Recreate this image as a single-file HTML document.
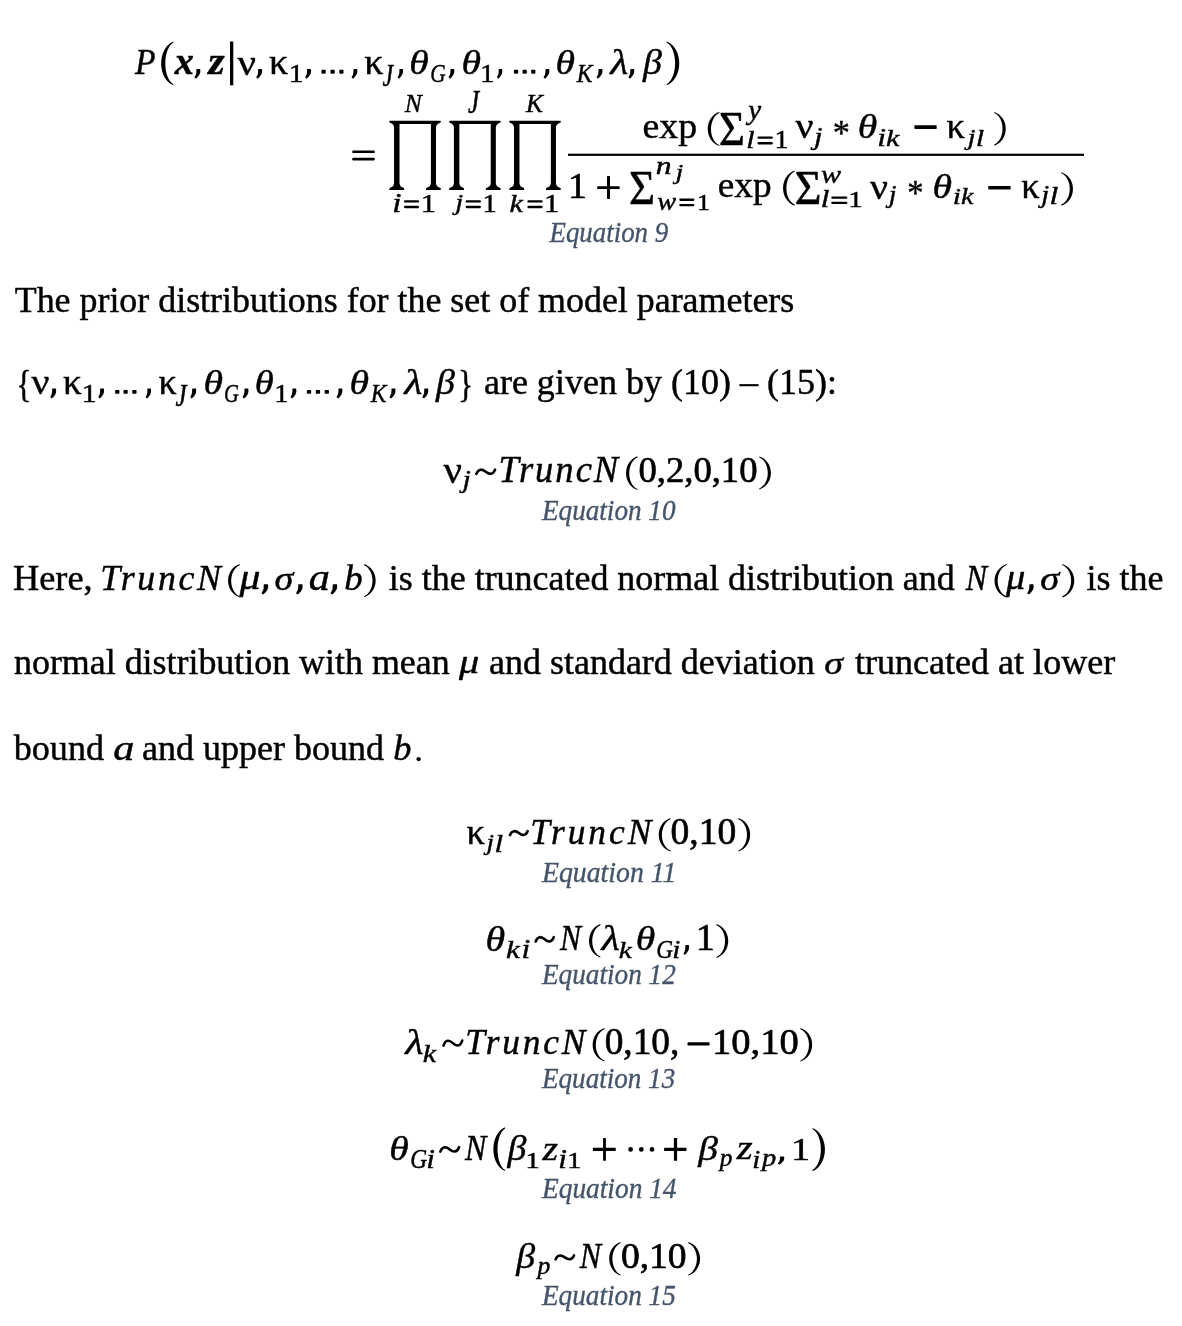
<!DOCTYPE html>
<html><head><meta charset="utf-8"><title>Equations</title>
<style>
html,body{margin:0;padding:0;background:#fff;width:1182px;height:1326px;overflow:hidden}
svg{display:block;will-change:transform}
text{font-family:"Liberation Serif",serif}
</style></head><body>
<svg width="1182" height="1326" viewBox="0 0 1182 1326">
<path d="M173.30,41.50 C157.17,48.51 157.17,78.29 173.30,85.30 L173.40,84.20 C162.68,77.79 162.68,49.01 173.40,42.60 Z" fill="#000"/>
<path d="M196.40,69.29 Q196.40,69.00 196.94,69.00 L199.81,69.00 Q200.30,69.00 200.30,69.97 L200.30,72.10 Q200.18,74.82 196.03,78.70 L194.38,77.34 Q196.40,74.34 196.27,72.69 Z" fill="#000"/>
<rect x="230.00" y="41.50" width="3.30" height="43.80" fill="#000"/>
<path d="M258.20,69.29 Q258.20,69.00 258.75,69.00 L261.61,69.00 Q262.10,69.00 262.10,69.97 L262.10,72.10 Q261.98,74.82 257.83,78.70 L256.18,77.34 Q258.20,74.34 258.07,72.69 Z" fill="#000"/>
<path d="M307.10,69.29 Q307.10,69.00 307.64,69.00 L310.51,69.00 Q311.00,69.00 311.00,69.97 L311.00,72.10 Q310.88,74.82 306.73,78.70 L305.08,77.34 Q307.10,74.34 306.97,72.69 Z" fill="#000"/>
<rect x="321.45" y="69.85" width="4.30" height="3.80" rx="0.8" fill="#000"/>
<rect x="330.45" y="69.85" width="4.30" height="3.80" rx="0.8" fill="#000"/>
<rect x="339.25" y="69.85" width="4.30" height="3.80" rx="0.8" fill="#000"/>
<path d="M353.46,69.29 Q353.46,69.00 354.00,69.00 L356.82,69.00 Q357.30,69.00 357.30,69.97 L357.30,72.10 Q357.18,74.82 353.10,78.70 L351.48,77.34 Q353.46,74.34 353.34,72.69 Z" fill="#000"/>
<path d="M399.42,69.29 Q399.42,69.00 399.92,69.00 L402.55,69.00 Q403.00,69.00 403.00,69.97 L403.00,72.10 Q402.89,74.82 399.08,78.70 L397.57,77.34 Q399.42,74.34 399.30,72.69 Z" fill="#000"/>
<path d="M450.46,69.29 Q450.46,69.00 451.00,69.00 L453.82,69.00 Q454.30,69.00 454.30,69.97 L454.30,72.10 Q454.18,74.82 450.10,78.70 L448.48,77.34 Q450.46,74.34 450.34,72.69 Z" fill="#000"/>
<path d="M498.72,69.29 Q498.72,69.00 499.22,69.00 L501.85,69.00 Q502.30,69.00 502.30,69.97 L502.30,72.10 Q502.19,74.82 498.38,78.70 L496.87,77.34 Q498.72,74.34 498.60,72.69 Z" fill="#000"/>
<rect x="513.95" y="69.85" width="4.30" height="3.80" rx="0.8" fill="#000"/>
<rect x="522.55" y="69.85" width="4.30" height="3.80" rx="0.8" fill="#000"/>
<rect x="531.15" y="69.85" width="4.30" height="3.80" rx="0.8" fill="#000"/>
<path d="M545.46,69.29 Q545.46,69.00 546.00,69.00 L548.82,69.00 Q549.30,69.00 549.30,69.97 L549.30,72.10 Q549.18,74.82 545.10,78.70 L543.48,77.34 Q545.46,74.34 545.34,72.69 Z" fill="#000"/>
<path d="M598.50,69.29 Q598.50,69.00 599.04,69.00 L601.91,69.00 Q602.40,69.00 602.40,69.97 L602.40,72.10 Q602.28,74.82 598.13,78.70 L596.48,77.34 Q598.50,74.34 598.37,72.69 Z" fill="#000"/>
<path d="M630.36,69.29 Q630.36,69.00 630.90,69.00 L633.72,69.00 Q634.20,69.00 634.20,69.97 L634.20,72.10 Q634.08,74.82 630.00,78.70 L628.38,77.34 Q630.36,74.34 630.24,72.69 Z" fill="#000"/>
<path d="M666.80,41.50 C683.47,48.51 683.47,78.29 666.80,85.30 L666.70,84.20 C677.95,77.79 677.95,49.01 666.70,42.60 Z" fill="#000"/>
<rect x="352.20" y="150.50" width="22.60" height="2.60" rx="1.2" fill="#000"/>
<rect x="352.20" y="157.80" width="22.60" height="2.60" rx="1.2" fill="#000"/>
<path transform="translate(389.35 120.85)" d="M0.5,0H50.95Q51.45,0 51.45,0.6V1.2Q51.45,1.7 50.8,1.9Q47,2.9 46.65,6.5V62.5Q47,66 50.6,67Q51.45,67.2 51.45,68V68.6Q51.45,69.15 50.9,69.15H37.2Q36.65,69.15 36.65,68.6V68Q36.65,67.2 37.5,67Q41.2,66 41.55,62.5V3.1H10.15V62.5Q10.5,66 14,67Q14.85,67.2 14.85,68V68.6Q14.85,69.15 14.3,69.15H0.55Q0,69.15 0,68.6V68Q0,67.2 0.85,67Q4.35,66 4.7,62.5V6.5Q4.35,2.9 0.65,1.9Q0,1.7 0,1.2V0.6Q0,0 0.5,0Z" fill="#000"/>
<path transform="translate(449.2 120.85)" d="M0.5,0H50.95Q51.45,0 51.45,0.6V1.2Q51.45,1.7 50.8,1.9Q47,2.9 46.65,6.5V62.5Q47,66 50.6,67Q51.45,67.2 51.45,68V68.6Q51.45,69.15 50.9,69.15H37.2Q36.65,69.15 36.65,68.6V68Q36.65,67.2 37.5,67Q41.2,66 41.55,62.5V3.1H10.15V62.5Q10.5,66 14,67Q14.85,67.2 14.85,68V68.6Q14.85,69.15 14.3,69.15H0.55Q0,69.15 0,68.6V68Q0,67.2 0.85,67Q4.35,66 4.7,62.5V6.5Q4.35,2.9 0.65,1.9Q0,1.7 0,1.2V0.6Q0,0 0.5,0Z" fill="#000"/>
<path transform="translate(509.3 120.85)" d="M0.5,0H50.95Q51.45,0 51.45,0.6V1.2Q51.45,1.7 50.8,1.9Q47,2.9 46.65,6.5V62.5Q47,66 50.6,67Q51.45,67.2 51.45,68V68.6Q51.45,69.15 50.9,69.15H37.2Q36.65,69.15 36.65,68.6V68Q36.65,67.2 37.5,67Q41.2,66 41.55,62.5V3.1H10.15V62.5Q10.5,66 14,67Q14.85,67.2 14.85,68V68.6Q14.85,69.15 14.3,69.15H0.55Q0,69.15 0,68.6V68Q0,67.2 0.85,67Q4.35,66 4.7,62.5V6.5Q4.35,2.9 0.65,1.9Q0,1.7 0,1.2V0.6Q0,0 0.5,0Z" fill="#000"/>
<rect x="404.00" y="200.20" width="15.00" height="2.40" rx="1.2" fill="#000"/>
<rect x="404.00" y="205.80" width="15.00" height="2.40" rx="1.2" fill="#000"/>
<rect x="465.70" y="200.20" width="15.20" height="2.40" rx="1.2" fill="#000"/>
<rect x="465.70" y="205.80" width="15.20" height="2.40" rx="1.2" fill="#000"/>
<rect x="527.40" y="200.20" width="15.20" height="2.40" rx="1.2" fill="#000"/>
<rect x="527.40" y="205.80" width="15.20" height="2.40" rx="1.2" fill="#000"/>
<rect x="568.00" y="153.70" width="516.00" height="2.20" fill="#000"/>
<path d="M719.30,111.80 C703.97,117.29 703.97,140.61 719.30,146.10 L719.40,145.00 C708.28,140.11 708.28,117.79 719.40,112.90 Z" fill="#000"/>
<rect x="757.50" y="136.40" width="15.30" height="2.40" rx="1.2" fill="#000"/>
<rect x="757.50" y="142.00" width="15.30" height="2.40" rx="1.2" fill="#000"/>
<rect x="914.40" y="125.30" width="22.30" height="3.60" rx="0.6" fill="#000"/>
<path d="M994.30,112.00 C1009.63,117.39 1009.63,140.31 994.30,145.70 L994.20,144.60 C1005.40,139.81 1005.40,117.89 994.20,113.10 Z" fill="#000"/>
<rect x="597.20" y="186.20" width="22.40" height="2.90" rx="0.6" fill="#000"/>
<rect x="607.00" y="176.00" width="3.00" height="22.90" rx="0.6" fill="#000"/>
<rect x="679.20" y="198.60" width="15.20" height="2.28" rx="1.139999999999999" fill="#000"/>
<rect x="679.20" y="203.92" width="15.20" height="2.28" rx="1.139999999999999" fill="#000"/>
<path d="M794.60,170.50 C779.27,176.13 779.27,200.07 794.60,205.70 L794.70,204.60 C783.69,199.57 783.69,176.63 794.70,171.60 Z" fill="#000"/>
<rect x="831.20" y="196.50" width="16.20" height="2.25" rx="1.125" fill="#000"/>
<rect x="831.20" y="201.75" width="16.20" height="2.25" rx="1.125" fill="#000"/>
<rect x="988.30" y="186.00" width="22.30" height="3.50" rx="0.6" fill="#000"/>
<path d="M1061.40,172.20 C1076.87,177.56 1076.87,200.34 1061.40,205.70 L1061.30,204.60 C1072.66,199.84 1072.66,178.06 1061.30,173.30 Z" fill="#000"/>
<path d="M52.20,388.71 Q52.20,388.40 52.74,388.40 L55.61,388.40 Q56.10,388.40 56.10,389.42 L56.10,391.66 Q55.98,394.52 51.83,398.60 L50.18,397.17 Q52.20,394.01 52.07,392.28 Z" fill="#000"/>
<path d="M100.16,388.71 Q100.16,388.40 100.70,388.40 L103.52,388.40 Q104.00,388.40 104.00,389.42 L104.00,391.66 Q103.88,394.52 99.80,398.60 L98.18,397.17 Q100.16,394.01 100.04,392.28 Z" fill="#000"/>
<rect x="115.15" y="390.00" width="4.30" height="3.80" rx="0.8" fill="#000"/>
<rect x="123.45" y="390.00" width="4.30" height="3.80" rx="0.8" fill="#000"/>
<rect x="132.25" y="390.00" width="4.30" height="3.80" rx="0.8" fill="#000"/>
<path d="M147.42,388.71 Q147.42,388.40 147.92,388.40 L150.55,388.40 Q151.00,388.40 151.00,389.42 L151.00,391.66 Q150.89,394.52 147.08,398.60 L145.57,397.17 Q147.42,394.01 147.30,392.28 Z" fill="#000"/>
<path d="M192.20,388.71 Q192.20,388.40 192.75,388.40 L195.61,388.40 Q196.10,388.40 196.10,389.42 L196.10,391.66 Q195.98,394.52 191.83,398.60 L190.18,397.17 Q192.20,394.01 192.07,392.28 Z" fill="#000"/>
<path d="M244.50,388.71 Q244.50,388.40 245.05,388.40 L247.91,388.40 Q248.40,388.40 248.40,389.42 L248.40,391.66 Q248.28,394.52 244.13,398.60 L242.48,397.17 Q244.50,394.01 244.37,392.28 Z" fill="#000"/>
<path d="M292.46,388.71 Q292.46,388.40 293.00,388.40 L295.82,388.40 Q296.30,388.40 296.30,389.42 L296.30,391.66 Q296.18,394.52 292.10,398.60 L290.48,397.17 Q292.46,394.01 292.34,392.28 Z" fill="#000"/>
<rect x="306.85" y="390.00" width="4.30" height="3.80" rx="0.8" fill="#000"/>
<rect x="315.75" y="390.00" width="4.30" height="3.80" rx="0.8" fill="#000"/>
<rect x="324.65" y="390.00" width="4.30" height="3.80" rx="0.8" fill="#000"/>
<path d="M338.46,388.71 Q338.46,388.40 339.00,388.40 L341.82,388.40 Q342.30,388.40 342.30,389.42 L342.30,391.66 Q342.18,394.52 338.10,398.60 L336.48,397.17 Q338.46,394.01 338.34,392.28 Z" fill="#000"/>
<path d="M391.50,388.71 Q391.50,388.40 392.05,388.40 L394.91,388.40 Q395.40,388.40 395.40,389.42 L395.40,391.66 Q395.28,394.52 391.13,398.60 L389.48,397.17 Q391.50,394.01 391.37,392.28 Z" fill="#000"/>
<path d="M424.30,388.71 Q424.30,388.40 424.85,388.40 L427.71,388.40 Q428.20,388.40 428.20,389.42 L428.20,391.66 Q428.08,394.52 423.93,398.60 L422.28,397.17 Q424.30,394.01 424.17,392.28 Z" fill="#000"/>
<path d="M476.30,473.90 C478.56,468.10 482.50,469.17 485.70,471.75 S492.84,475.40 495.10,469.60" fill="none" stroke="#000" stroke-width="2.6" stroke-linecap="round"/>
<path d="M637.40,456.30 C622.33,461.69 622.33,484.61 637.40,490.00 L637.50,488.90 C626.57,484.11 626.57,462.19 637.50,457.40 Z" fill="#000"/>
<path d="M759.40,456.40 C774.73,461.68 774.73,484.12 759.40,489.40 L759.30,488.30 C770.59,483.62 770.59,462.18 759.30,457.50 Z" fill="#000"/>
<path d="M239.60,564.10 C224.27,569.41 224.27,591.99 239.60,597.30 L239.70,596.20 C228.44,591.49 228.44,569.91 239.70,565.20 Z" fill="#000"/>
<path d="M263.75,584.61 Q263.75,584.30 264.36,584.30 L267.56,584.30 Q268.10,584.30 268.10,585.33 L268.10,587.60 Q267.96,590.48 263.34,594.60 L261.50,593.16 Q263.75,589.97 263.61,588.21 Z" fill="#000"/>
<path d="M298.25,584.61 Q298.25,584.30 298.86,584.30 L302.06,584.30 Q302.60,584.30 302.60,585.33 L302.60,587.60 Q302.46,590.48 297.84,594.60 L296.00,593.16 Q298.25,589.97 298.11,588.21 Z" fill="#000"/>
<path d="M332.75,584.61 Q332.75,584.30 333.36,584.30 L336.56,584.30 Q337.10,584.30 337.10,585.33 L337.10,587.60 Q336.96,590.48 332.34,594.60 L330.50,593.16 Q332.75,589.97 332.61,588.21 Z" fill="#000"/>
<path d="M364.20,564.10 C379.53,569.41 379.53,591.99 364.20,597.30 L364.10,596.20 C375.36,591.49 375.36,569.91 364.10,565.20 Z" fill="#000"/>
<path d="M1006.70,564.00 C990.57,569.38 990.57,592.22 1006.70,597.60 L1006.80,596.50 C994.79,591.72 994.79,569.88 1006.80,565.10 Z" fill="#000"/>
<path d="M1029.38,584.61 Q1029.38,584.30 1029.97,584.30 L1033.07,584.30 Q1033.60,584.30 1033.60,585.33 L1033.60,587.60 Q1033.47,590.48 1028.98,594.60 L1027.20,593.16 Q1029.38,589.97 1029.24,588.21 Z" fill="#000"/>
<path d="M1062.20,564.00 C1078.33,569.38 1078.33,592.22 1062.20,597.60 L1062.10,596.50 C1074.11,591.72 1074.11,569.88 1062.10,565.10 Z" fill="#000"/>
<path d="M510.00,835.10 C512.12,829.70 515.84,830.70 518.85,833.10 S525.58,836.50 527.70,831.10" fill="none" stroke="#000" stroke-width="2.6" stroke-linecap="round"/>
<path d="M670.50,818.10 C654.90,823.46 654.90,846.24 670.50,851.60 L670.60,850.50 C659.11,845.74 659.11,823.96 670.60,819.20 Z" fill="#000"/>
<path d="M738.50,818.10 C754.10,823.46 754.10,846.24 738.50,851.60 L738.40,850.50 C749.89,845.74 749.89,823.96 738.40,819.20 Z" fill="#000"/>
<path d="M535.60,941.60 C537.78,935.52 541.61,936.65 544.70,939.35 S551.62,943.18 553.80,937.10" fill="none" stroke="#000" stroke-width="2.6" stroke-linecap="round"/>
<path d="M600.30,924.10 C585.37,929.46 585.37,952.24 600.30,957.60 L600.40,956.50 C589.58,951.74 589.58,929.96 600.40,925.20 Z" fill="#000"/>
<path d="M685.35,945.40 Q685.35,945.10 685.87,945.10 L688.54,945.10 Q689.00,945.10 689.00,946.09 L689.00,948.27 Q688.89,951.04 685.01,955.00 L683.47,953.61 Q685.35,950.54 685.24,948.86 Z" fill="#000"/>
<path d="M716.50,924.10 C732.23,929.52 732.23,952.58 716.50,958.00 L716.40,956.90 C727.97,952.08 727.97,930.02 716.40,925.20 Z" fill="#000"/>
<path d="M443.50,1045.60 C445.74,1038.85 449.67,1040.10 452.85,1043.10 S459.96,1047.35 462.20,1040.60" fill="none" stroke="#000" stroke-width="2.6" stroke-linecap="round"/>
<path d="M604.40,1028.10 C588.80,1033.46 588.80,1056.24 604.40,1061.60 L604.50,1060.50 C593.01,1055.74 593.01,1033.96 604.50,1029.20 Z" fill="#000"/>
<rect x="687.50" y="1042.30" width="22.00" height="3.20" rx="0.6" fill="#000"/>
<path d="M800.50,1028.10 C816.10,1033.46 816.10,1056.24 800.50,1061.60 L800.40,1060.50 C811.89,1055.74 811.89,1033.96 800.40,1029.20 Z" fill="#000"/>
<path d="M440.30,1151.60 C442.56,1145.66 446.50,1146.76 449.70,1149.40 S456.84,1153.14 459.10,1147.20" fill="none" stroke="#000" stroke-width="2.6" stroke-linecap="round"/>
<path d="M505.00,1127.30 C489.53,1134.31 489.53,1164.09 505.00,1171.10 L505.10,1170.00 C495.05,1163.59 495.05,1134.81 505.10,1128.40 Z" fill="#000"/>
<rect x="592.90" y="1147.80" width="22.80" height="3.30" rx="0.5" fill="#000"/>
<rect x="603.10" y="1138.00" width="2.80" height="22.80" rx="0.5" fill="#000"/>
<circle cx="630.6" cy="1149.4" r="2.35" fill="#000"/>
<circle cx="641.3" cy="1149.4" r="2.35" fill="#000"/>
<circle cx="652.0" cy="1149.4" r="2.35" fill="#000"/>
<rect x="664.10" y="1147.80" width="22.30" height="3.30" rx="0.5" fill="#000"/>
<rect x="673.90" y="1138.00" width="3.20" height="22.80" rx="0.5" fill="#000"/>
<path d="M779.98,1156.65 Q779.98,1156.40 780.57,1156.40 L783.67,1156.40 Q784.20,1156.40 784.20,1157.23 L784.20,1159.06 Q784.07,1161.38 779.58,1164.70 L777.80,1163.54 Q779.98,1160.97 779.84,1159.55 Z" fill="#000"/>
<path d="M812.60,1128.00 C829.13,1134.91 829.13,1164.29 812.60,1171.20 L812.50,1170.10 C823.69,1163.79 823.69,1135.41 812.50,1129.10 Z" fill="#000"/>
<path d="M555.60,1259.30 C557.81,1254.03 561.67,1255.01 564.80,1257.35 S571.79,1260.66 574.00,1255.40" fill="none" stroke="#000" stroke-width="2.6" stroke-linecap="round"/>
<path d="M620.40,1242.10 C605.47,1247.46 605.47,1270.24 620.40,1275.60 L620.50,1274.50 C609.68,1269.74 609.68,1247.96 620.50,1243.20 Z" fill="#000"/>
<path d="M688.40,1242.10 C704.00,1247.46 704.00,1270.24 688.40,1275.60 L688.30,1274.50 C699.79,1269.74 699.79,1247.96 688.30,1243.20 Z" fill="#000"/>
<text transform="matrix(0.9091 0 0 0.9880 135.10 74.10)" font-size="37" font-style="italic" font-weight="normal" stroke="#000" stroke-width="0.45" stroke-linejoin="round" fill="#000" xml:space="preserve">P</text>
<text transform="matrix(1.0316 0 0 1.0333 174.73 74.10)" font-size="37" font-style="italic" font-weight="bold" stroke="#000" stroke-width="0.45" stroke-linejoin="round" fill="#000" xml:space="preserve">x</text>
<text transform="matrix(1.1375 0 0 1.0056 208.34 74.10)" font-size="37" font-style="italic" font-weight="bold" stroke="#000" stroke-width="0.45" stroke-linejoin="round" fill="#000" xml:space="preserve">z</text>
<text transform="matrix(1.1062 0 0 0.9833 237.40 74.60)" font-size="37" font-style="normal" font-weight="normal" stroke="#000" stroke-width="0.45" stroke-linejoin="round" fill="#000" xml:space="preserve">ν</text>
<text transform="matrix(1.0263 0 0 0.9556 269.10 74.10)" font-size="37" font-style="normal" font-weight="normal" stroke="#000" stroke-width="0.45" stroke-linejoin="round" fill="#000" xml:space="preserve">κ</text>
<text transform="matrix(1.1100 0 0 0.9056 288.78 81.50)" font-size="26.7" font-style="normal" font-weight="normal" stroke="#000" stroke-width="0.45" stroke-linejoin="round" fill="#000" xml:space="preserve">1</text>
<text transform="matrix(1.0316 0 0 0.9556 364.30 74.10)" font-size="37" font-style="normal" font-weight="normal" stroke="#000" stroke-width="0.45" stroke-linejoin="round" fill="#000" xml:space="preserve">κ</text>
<text transform="matrix(0.8923 0 0 1.1611 382.50 85.70)" font-size="26.7" font-style="italic" font-weight="normal" stroke="#000" stroke-width="0.45" stroke-linejoin="round" fill="#000" xml:space="preserve">J</text>
<text transform="matrix(1.0750 0 0 0.9296 409.35 74.10)" font-size="37" font-style="italic" font-weight="normal" stroke="#000" stroke-width="0.45" stroke-linejoin="round" fill="#000" xml:space="preserve">θ</text>
<text transform="matrix(0.8000 0 0 0.9556 430.30 82.00)" font-size="26.7" font-style="italic" font-weight="normal" stroke="#000" stroke-width="0.45" stroke-linejoin="round" fill="#000" xml:space="preserve">G</text>
<text transform="matrix(1.0750 0 0 0.9296 461.45 74.10)" font-size="37" font-style="italic" font-weight="normal" stroke="#000" stroke-width="0.45" stroke-linejoin="round" fill="#000" xml:space="preserve">θ</text>
<text transform="matrix(1.0800 0 0 0.9056 480.04 81.50)" font-size="26.7" font-style="normal" font-weight="normal" stroke="#000" stroke-width="0.45" stroke-linejoin="round" fill="#000" xml:space="preserve">1</text>
<text transform="matrix(1.0750 0 0 0.9296 555.55 74.10)" font-size="37" font-style="italic" font-weight="normal" stroke="#000" stroke-width="0.45" stroke-linejoin="round" fill="#000" xml:space="preserve">θ</text>
<text transform="matrix(0.8850 0 0 0.9556 576.68 82.00)" font-size="26.7" font-style="italic" font-weight="normal" stroke="#000" stroke-width="0.45" stroke-linejoin="round" fill="#000" xml:space="preserve">K</text>
<text transform="matrix(1.1313 0 0 0.9481 610.23 74.10)" font-size="37" font-style="italic" font-weight="normal" stroke="#000" stroke-width="0.45" stroke-linejoin="round" fill="#000" xml:space="preserve">λ</text>
<text transform="matrix(1.0250 0 0 0.9429 643.12 73.96)" font-size="37" font-style="italic" font-weight="normal" stroke="#000" stroke-width="0.45" stroke-linejoin="round" fill="#000" xml:space="preserve">β</text>
<text transform="matrix(0.9579 0 0 0.9722 404.80 112.40)" font-size="26.7" font-style="italic" font-weight="normal" stroke="#000" stroke-width="0.45" stroke-linejoin="round" fill="#000" xml:space="preserve">N</text>
<text transform="matrix(0.9385 0 0 1.2278 468.00 113.20)" font-size="26.7" font-style="italic" font-weight="normal" stroke="#000" stroke-width="0.45" stroke-linejoin="round" fill="#000" xml:space="preserve">J</text>
<text transform="matrix(0.9550 0 0 0.9722 525.96 112.40)" font-size="26.7" font-style="italic" font-weight="normal" stroke="#000" stroke-width="0.45" stroke-linejoin="round" fill="#000" xml:space="preserve">K</text>
<text transform="matrix(1.2500 0 0 1.0000 392.20 212.10)" font-size="26.7" font-style="italic" font-weight="normal" stroke="#000" stroke-width="0.45" stroke-linejoin="round" fill="#000" xml:space="preserve">i</text>
<text transform="matrix(1.1400 0 0 0.9556 420.82 212.10)" font-size="26.7" font-style="normal" font-weight="normal" stroke="#000" stroke-width="0.45" stroke-linejoin="round" fill="#000" xml:space="preserve">1</text>
<text transform="matrix(1.0700 0 0 0.8917 455.21 210.15)" font-size="26.7" font-style="italic" font-weight="normal" stroke="#000" stroke-width="0.45" stroke-linejoin="round" fill="#000" xml:space="preserve">j</text>
<text transform="matrix(1.0700 0 0 0.9556 482.56 212.10)" font-size="26.7" font-style="normal" font-weight="normal" stroke="#000" stroke-width="0.45" stroke-linejoin="round" fill="#000" xml:space="preserve">1</text>
<text transform="matrix(1.1316 0 0 0.9053 509.53 212.10)" font-size="26.7" font-style="italic" font-weight="normal" stroke="#000" stroke-width="0.45" stroke-linejoin="round" fill="#000" xml:space="preserve">k</text>
<text transform="matrix(1.1400 0 0 0.9556 544.12 212.10)" font-size="26.7" font-style="normal" font-weight="normal" stroke="#000" stroke-width="0.45" stroke-linejoin="round" fill="#000" xml:space="preserve">1</text>
<text transform="matrix(1.0216 0 0 0.9769 642.48 137.88)" font-size="37" font-style="normal" font-weight="normal" stroke="#000" stroke-width="0.45" stroke-linejoin="round" fill="#000" xml:space="preserve">exp</text>
<text transform="matrix(1.2000 0 0 1.3200 719.10 145.30)" font-size="37" font-style="normal" font-weight="normal" stroke="#000" stroke-width="0.45" stroke-linejoin="round" fill="#000" xml:space="preserve">Σ</text>
<text transform="matrix(1.0857 0 0 0.9842 748.27 119.09)" font-size="26.7" font-style="italic" font-weight="normal" stroke="#000" stroke-width="0.45" stroke-linejoin="round" fill="#000" xml:space="preserve">y</text>
<text transform="matrix(1.1167 0 0 0.9105 746.28 148.20)" font-size="26.7" font-style="italic" font-weight="normal" stroke="#000" stroke-width="0.45" stroke-linejoin="round" fill="#000" xml:space="preserve">l</text>
<text transform="matrix(1.0500 0 0 0.9167 774.50 147.80)" font-size="26.7" font-style="normal" font-weight="normal" stroke="#000" stroke-width="0.45" stroke-linejoin="round" fill="#000" xml:space="preserve">1</text>
<text transform="matrix(1.0750 0 0 0.9611 795.60 138.20)" font-size="37" font-style="normal" font-weight="normal" stroke="#000" stroke-width="0.45" stroke-linejoin="round" fill="#000" xml:space="preserve">ν</text>
<text transform="matrix(1.1600 0 0 0.9667 813.98 144.90)" font-size="26.7" font-style="italic" font-weight="normal" stroke="#000" stroke-width="0.45" stroke-linejoin="round" fill="#000" xml:space="preserve">j</text>
<text transform="matrix(0.9267 0 0 0.9643 832.85 145.01)" font-size="37" font-style="normal" font-weight="normal" stroke="#000" stroke-width="0.45" stroke-linejoin="round" fill="#000" xml:space="preserve">*</text>
<text transform="matrix(1.0750 0 0 0.9333 857.65 138.20)" font-size="37" font-style="italic" font-weight="normal" stroke="#000" stroke-width="0.45" stroke-linejoin="round" fill="#000" xml:space="preserve">θ</text>
<text transform="matrix(1.1875 0 0 0.9500 877.35 145.70)" font-size="26.7" font-style="italic" font-weight="normal" stroke="#000" stroke-width="0.45" stroke-linejoin="round" fill="#000" xml:space="preserve">i</text>
<text transform="matrix(1.1250 0 0 0.9000 885.97 145.70)" font-size="26.7" font-style="italic" font-weight="normal" stroke="#000" stroke-width="0.45" stroke-linejoin="round" fill="#000" xml:space="preserve">k</text>
<text transform="matrix(0.9895 0 0 0.9500 946.40 137.70)" font-size="37" font-style="normal" font-weight="normal" stroke="#000" stroke-width="0.45" stroke-linejoin="round" fill="#000" xml:space="preserve">κ</text>
<text transform="matrix(1.0938 0 0 0.8750 967.61 145.05)" font-size="26.7" font-style="italic" font-weight="normal" stroke="#000" stroke-width="0.45" stroke-linejoin="round" fill="#000" xml:space="preserve">j</text>
<text transform="matrix(1.1250 0 0 0.9000 975.80 145.70)" font-size="26.7" font-style="italic" font-weight="normal" stroke="#000" stroke-width="0.45" stroke-linejoin="round" fill="#000" xml:space="preserve">l</text>
<text transform="matrix(1.0286 0 0 0.9960 567.91 198.00)" font-size="37" font-style="normal" font-weight="normal" stroke="#000" stroke-width="0.65" stroke-linejoin="round" fill="#000" xml:space="preserve">1</text>
<text transform="matrix(1.2053 0 0 1.3360 628.99 203.50)" font-size="37" font-style="normal" font-weight="normal" stroke="#000" stroke-width="0.45" stroke-linejoin="round" fill="#000" xml:space="preserve">Σ</text>
<text transform="matrix(1.1827 0 0 0.9462 655.72 173.70)" font-size="26.7" font-style="italic" font-weight="normal" stroke="#000" stroke-width="0.45" stroke-linejoin="round" fill="#000" xml:space="preserve">n</text>
<text transform="matrix(1.3355 0 0 1.0684 675.75 178.86)" font-size="20" font-style="italic" font-weight="normal" stroke="#000" stroke-width="0.45" stroke-linejoin="round" fill="#000" xml:space="preserve">j</text>
<text transform="matrix(1.0611 0 0 0.9769 657.20 209.60)" font-size="26.7" font-style="italic" font-weight="normal" stroke="#000" stroke-width="0.45" stroke-linejoin="round" fill="#000" xml:space="preserve">w</text>
<text transform="matrix(1.0100 0 0 0.8944 696.68 209.60)" font-size="26.7" font-style="normal" font-weight="normal" stroke="#000" stroke-width="0.45" stroke-linejoin="round" fill="#000" xml:space="preserve">1</text>
<text transform="matrix(1.0078 0 0 0.9885 717.79 197.09)" font-size="37" font-style="normal" font-weight="normal" stroke="#000" stroke-width="0.45" stroke-linejoin="round" fill="#000" xml:space="preserve">exp</text>
<text transform="matrix(1.2421 0 0 1.3280 794.76 203.70)" font-size="37" font-style="normal" font-weight="normal" stroke="#000" stroke-width="0.45" stroke-linejoin="round" fill="#000" xml:space="preserve">Σ</text>
<text transform="matrix(1.1278 0 0 0.9385 821.00 182.70)" font-size="26.7" font-style="italic" font-weight="normal" stroke="#000" stroke-width="0.45" stroke-linejoin="round" fill="#000" xml:space="preserve">w</text>
<text transform="matrix(1.1579 0 0 0.9263 820.77 207.10)" font-size="26.7" font-style="italic" font-weight="normal" stroke="#000" stroke-width="0.45" stroke-linejoin="round" fill="#000" xml:space="preserve">l</text>
<text transform="matrix(1.0833 0 0 0.8667 848.27 207.10)" font-size="26.7" font-style="normal" font-weight="normal" stroke="#000" stroke-width="0.45" stroke-linejoin="round" fill="#000" xml:space="preserve">1</text>
<text transform="matrix(1.0750 0 0 0.9556 870.00 198.50)" font-size="37" font-style="normal" font-weight="normal" stroke="#000" stroke-width="0.45" stroke-linejoin="round" fill="#000" xml:space="preserve">ν</text>
<text transform="matrix(1.0500 0 0 0.9625 888.65 202.82)" font-size="26.7" font-style="italic" font-weight="normal" stroke="#000" stroke-width="0.45" stroke-linejoin="round" fill="#000" xml:space="preserve">j</text>
<text transform="matrix(0.8800 0 0 0.9714 907.24 204.99)" font-size="37" font-style="normal" font-weight="normal" stroke="#000" stroke-width="0.45" stroke-linejoin="round" fill="#000" xml:space="preserve">*</text>
<text transform="matrix(1.0750 0 0 0.9222 932.45 197.90)" font-size="37" font-style="italic" font-weight="normal" stroke="#000" stroke-width="0.45" stroke-linejoin="round" fill="#000" xml:space="preserve">θ</text>
<text transform="matrix(1.1111 0 0 0.8889 952.71 203.80)" font-size="26.7" font-style="italic" font-weight="normal" stroke="#000" stroke-width="0.45" stroke-linejoin="round" fill="#000" xml:space="preserve">i</text>
<text transform="matrix(1.0526 0 0 0.8421 961.03 203.80)" font-size="26.7" font-style="italic" font-weight="normal" stroke="#000" stroke-width="0.45" stroke-linejoin="round" fill="#000" xml:space="preserve">k</text>
<text transform="matrix(0.9842 0 0 0.9556 1021.30 198.10)" font-size="37" font-style="normal" font-weight="normal" stroke="#000" stroke-width="0.45" stroke-linejoin="round" fill="#000" xml:space="preserve">κ</text>
<text transform="matrix(1.0700 0 0 0.9250 1041.21 203.25)" font-size="26.7" font-style="italic" font-weight="normal" stroke="#000" stroke-width="0.45" stroke-linejoin="round" fill="#000" xml:space="preserve">j</text>
<text transform="matrix(1.1776 0 0 0.9421 1049.54 203.80)" font-size="26.7" font-style="italic" font-weight="normal" stroke="#000" stroke-width="0.45" stroke-linejoin="round" fill="#000" xml:space="preserve">l</text>
<text transform="matrix(0.9597 0 0 1.0167 549.50 241.60)" font-size="28" font-style="italic" font-weight="normal" stroke="#44546A" stroke-width="0.35" stroke-linejoin="round" fill="#44546A" xml:space="preserve">Equation 9</text>
<text transform="matrix(0.9977 0 0 1.0000 14.70 312.00)" font-size="36" font-style="normal" font-weight="normal" stroke="#000" stroke-width="0.45" stroke-linejoin="round" fill="#000" xml:space="preserve">The prior distributions for the set of model parameters</text>
<text transform="matrix(0.8583 0 0 1.0469 16.23 396.67)" font-size="37" font-style="normal" font-weight="normal" stroke="#000" stroke-width="0.45" stroke-linejoin="round" fill="#000" xml:space="preserve">{</text>
<text transform="matrix(1.0750 0 0 0.9778 31.40 394.40)" font-size="37" font-style="normal" font-weight="normal" stroke="#000" stroke-width="0.45" stroke-linejoin="round" fill="#000" xml:space="preserve">ν</text>
<text transform="matrix(1.0053 0 0 0.9556 63.00 394.00)" font-size="37" font-style="normal" font-weight="normal" stroke="#000" stroke-width="0.45" stroke-linejoin="round" fill="#000" xml:space="preserve">κ</text>
<text transform="matrix(1.1200 0 0 0.9333 81.76 401.90)" font-size="26.7" font-style="normal" font-weight="normal" stroke="#000" stroke-width="0.45" stroke-linejoin="round" fill="#000" xml:space="preserve">1</text>
<text transform="matrix(0.9789 0 0 0.9556 158.40 394.00)" font-size="37" font-style="normal" font-weight="normal" stroke="#000" stroke-width="0.45" stroke-linejoin="round" fill="#000" xml:space="preserve">κ</text>
<text transform="matrix(0.9308 0 0 1.1833 175.60 406.00)" font-size="26.7" font-style="italic" font-weight="normal" stroke="#000" stroke-width="0.45" stroke-linejoin="round" fill="#000" xml:space="preserve">J</text>
<text transform="matrix(1.0750 0 0 0.9333 203.45 394.00)" font-size="37" font-style="italic" font-weight="normal" stroke="#000" stroke-width="0.45" stroke-linejoin="round" fill="#000" xml:space="preserve">θ</text>
<text transform="matrix(0.7722 0 0 0.9333 223.93 401.90)" font-size="26.7" font-style="italic" font-weight="normal" stroke="#000" stroke-width="0.45" stroke-linejoin="round" fill="#000" xml:space="preserve">G</text>
<text transform="matrix(1.0437 0 0 0.9333 254.71 394.00)" font-size="37" font-style="italic" font-weight="normal" stroke="#000" stroke-width="0.45" stroke-linejoin="round" fill="#000" xml:space="preserve">θ</text>
<text transform="matrix(1.0700 0 0 0.9056 274.16 401.90)" font-size="26.7" font-style="normal" font-weight="normal" stroke="#000" stroke-width="0.45" stroke-linejoin="round" fill="#000" xml:space="preserve">1</text>
<text transform="matrix(1.0750 0 0 0.9333 349.55 394.00)" font-size="37" font-style="italic" font-weight="normal" stroke="#000" stroke-width="0.45" stroke-linejoin="round" fill="#000" xml:space="preserve">θ</text>
<text transform="matrix(0.8850 0 0 0.9333 370.69 401.90)" font-size="26.7" font-style="italic" font-weight="normal" stroke="#000" stroke-width="0.45" stroke-linejoin="round" fill="#000" xml:space="preserve">K</text>
<text transform="matrix(1.1375 0 0 0.9481 404.14 394.00)" font-size="37" font-style="italic" font-weight="normal" stroke="#000" stroke-width="0.45" stroke-linejoin="round" fill="#000" xml:space="preserve">λ</text>
<text transform="matrix(1.0250 0 0 0.9429 436.12 393.86)" font-size="37" font-style="italic" font-weight="normal" stroke="#000" stroke-width="0.45" stroke-linejoin="round" fill="#000" xml:space="preserve">β</text>
<text transform="matrix(0.8583 0 0 1.0469 458.12 396.67)" font-size="37" font-style="normal" font-weight="normal" stroke="#000" stroke-width="0.45" stroke-linejoin="round" fill="#000" xml:space="preserve">}</text>
<text transform="matrix(1.0009 0 0 1.0000 483.90 394.00)" font-size="36" font-style="normal" font-weight="normal" stroke="#000" stroke-width="0.45" stroke-linejoin="round" fill="#000" xml:space="preserve">are given by (10) – (15):</text>
<text transform="matrix(1.1063 0 0 1.0111 443.40 482.70)" font-size="37" font-style="normal" font-weight="normal" stroke="#000" stroke-width="0.45" stroke-linejoin="round" fill="#000" xml:space="preserve">ν</text>
<text transform="matrix(1.1200 0 0 0.9125 462.56 488.42)" font-size="26.7" font-style="italic" font-weight="normal" stroke="#000" stroke-width="0.45" stroke-linejoin="round" fill="#000" xml:space="preserve">j</text>
<text transform="matrix(0.9878 0 0 1.0080 498.62 482.00)" font-size="37" letter-spacing="2.014" font-style="italic" font-weight="normal" stroke="#000" stroke-width="0.45" stroke-linejoin="round" fill="#000" xml:space="preserve">TruncN</text>
<text transform="matrix(0.9898 0 0 0.9960 638.51 482.00)" font-size="37" font-style="normal" font-weight="normal" stroke="#000" stroke-width="0.65" stroke-linejoin="round" fill="#000" xml:space="preserve">0,2,0,10</text>
<text transform="matrix(0.9703 0 0 1.0556 542.00 519.70)" font-size="28" font-style="italic" font-weight="normal" stroke="#44546A" stroke-width="0.35" stroke-linejoin="round" fill="#44546A" xml:space="preserve">Equation 10</text>
<text transform="matrix(1.0092 0 0 1.0000 12.99 590.00)" font-size="36" font-style="normal" font-weight="normal" stroke="#000" stroke-width="0.45" stroke-linejoin="round" fill="#000" xml:space="preserve">Here,</text>
<text transform="matrix(0.9682 0 0 0.9880 100.16 590.00)" font-size="37" letter-spacing="2.752" font-style="italic" font-weight="normal" stroke="#000" stroke-width="0.45" stroke-linejoin="round" fill="#000" xml:space="preserve">TruncN</text>
<text transform="matrix(1.1278 0 0 0.9654 239.60 588.88)" font-size="37" font-style="italic" font-weight="normal" stroke="#000" stroke-width="0.45" stroke-linejoin="round" fill="#000" xml:space="preserve">μ</text>
<text transform="matrix(1.0316 0 0 0.9250 274.47 590.00)" font-size="37" font-style="italic" font-weight="normal" stroke="#000" stroke-width="0.45" stroke-linejoin="round" fill="#000" xml:space="preserve">σ</text>
<text transform="matrix(1.1438 0 0 1.0278 308.86 590.00)" font-size="37" font-style="italic" font-weight="normal" stroke="#000" stroke-width="0.45" stroke-linejoin="round" fill="#000" xml:space="preserve">a</text>
<text transform="matrix(0.9941 0 0 0.9593 344.21 590.00)" font-size="37" font-style="italic" font-weight="normal" stroke="#000" stroke-width="0.45" stroke-linejoin="round" fill="#000" xml:space="preserve">b</text>
<text transform="matrix(0.9984 0 0 1.0000 388.80 590.00)" font-size="36" font-style="normal" font-weight="normal" stroke="#000" stroke-width="0.45" stroke-linejoin="round" fill="#000" xml:space="preserve">is the truncated normal distribution and</text>
<text transform="matrix(0.8643 0 0 0.9960 965.76 590.00)" font-size="37" font-style="italic" font-weight="normal" stroke="#000" stroke-width="0.45" stroke-linejoin="round" fill="#000" xml:space="preserve">N</text>
<text transform="matrix(1.0389 0 0 0.9500 1006.10 589.40)" font-size="37" font-style="italic" font-weight="normal" stroke="#000" stroke-width="0.45" stroke-linejoin="round" fill="#000" xml:space="preserve">μ</text>
<text transform="matrix(1.0421 0 0 0.8850 1040.26 590.00)" font-size="37" font-style="italic" font-weight="normal" stroke="#000" stroke-width="0.45" stroke-linejoin="round" fill="#000" xml:space="preserve">σ</text>
<text transform="matrix(0.9974 0 0 1.0000 1086.60 590.00)" font-size="36" font-style="normal" font-weight="normal" stroke="#000" stroke-width="0.45" stroke-linejoin="round" fill="#000" xml:space="preserve">is the</text>
<text transform="matrix(0.9975 0 0 1.0000 14.00 674.00)" font-size="36" font-style="normal" font-weight="normal" stroke="#000" stroke-width="0.45" stroke-linejoin="round" fill="#000" xml:space="preserve">normal distribution with mean</text>
<text transform="matrix(1.0889 0 0 0.9192 459.00 673.45)" font-size="37" font-style="italic" font-weight="normal" stroke="#000" stroke-width="0.45" stroke-linejoin="round" fill="#000" xml:space="preserve">μ</text>
<text transform="matrix(0.9997 0 0 1.0000 489.00 674.00)" font-size="36" font-style="normal" font-weight="normal" stroke="#000" stroke-width="0.45" stroke-linejoin="round" fill="#000" xml:space="preserve">and standard deviation</text>
<text transform="matrix(1.0263 0 0 0.8650 824.27 674.00)" font-size="37" font-style="italic" font-weight="normal" stroke="#000" stroke-width="0.45" stroke-linejoin="round" fill="#000" xml:space="preserve">σ</text>
<text transform="matrix(1.0015 0 0 1.0000 855.00 674.00)" font-size="36" font-style="normal" font-weight="normal" stroke="#000" stroke-width="0.45" stroke-linejoin="round" fill="#000" xml:space="preserve">truncated at lower</text>
<text transform="matrix(1.0044 0 0 1.0000 13.70 760.00)" font-size="36" font-style="normal" font-weight="normal" stroke="#000" stroke-width="0.45" stroke-linejoin="round" fill="#000" xml:space="preserve">bound</text>
<text transform="matrix(1.1438 0 0 0.9889 113.36 760.00)" font-size="37" font-style="italic" font-weight="normal" stroke="#000" stroke-width="0.45" stroke-linejoin="round" fill="#000" xml:space="preserve">a</text>
<text transform="matrix(1.0004 0 0 1.0000 141.90 760.00)" font-size="36" font-style="normal" font-weight="normal" stroke="#000" stroke-width="0.45" stroke-linejoin="round" fill="#000" xml:space="preserve">and upper bound</text>
<text transform="matrix(0.9824 0 0 0.9593 393.22 760.00)" font-size="37" font-style="italic" font-weight="normal" stroke="#000" stroke-width="0.45" stroke-linejoin="round" fill="#000" xml:space="preserve">b</text>
<text transform="matrix(0.9000 0 0 0.8800 414.50 760.50)" font-size="37" font-style="normal" font-weight="normal" stroke="#000" stroke-width="0.45" stroke-linejoin="round" fill="#000" xml:space="preserve">.</text>
<text transform="matrix(0.9895 0 0 0.9556 466.60 844.00)" font-size="37" font-style="normal" font-weight="normal" stroke="#000" stroke-width="0.45" stroke-linejoin="round" fill="#000" xml:space="preserve">κ</text>
<text transform="matrix(1.0100 0 0 0.8792 486.43 850.43)" font-size="26.7" font-style="italic" font-weight="normal" stroke="#000" stroke-width="0.45" stroke-linejoin="round" fill="#000" xml:space="preserve">j</text>
<text transform="matrix(1.1579 0 0 0.9263 494.42 851.50)" font-size="26.7" font-style="italic" font-weight="normal" stroke="#000" stroke-width="0.45" stroke-linejoin="round" fill="#000" xml:space="preserve">l</text>
<text transform="matrix(0.9565 0 0 0.9760 530.19 844.00)" font-size="37" letter-spacing="3.122" font-style="italic" font-weight="normal" stroke="#000" stroke-width="0.45" stroke-linejoin="round" fill="#000" xml:space="preserve">TruncN</text>
<text transform="matrix(1.0143 0 0 0.9960 670.49 844.00)" font-size="37" font-style="normal" font-weight="normal" stroke="#000" stroke-width="0.65" stroke-linejoin="round" fill="#000" xml:space="preserve">0,10</text>
<text transform="matrix(0.9925 0 0 1.0222 542.00 881.60)" font-size="28" font-style="italic" font-weight="normal" stroke="#44546A" stroke-width="0.35" stroke-linejoin="round" fill="#44546A" xml:space="preserve">Equation 11</text>
<text transform="matrix(1.0812 0 0 0.9593 485.44 950.50)" font-size="37" font-style="italic" font-weight="normal" stroke="#000" stroke-width="0.45" stroke-linejoin="round" fill="#000" xml:space="preserve">θ</text>
<text transform="matrix(1.1645 0 0 0.9316 506.10 957.60)" font-size="26.7" font-style="italic" font-weight="normal" stroke="#000" stroke-width="0.45" stroke-linejoin="round" fill="#000" xml:space="preserve">k</text>
<text transform="matrix(1.1833 0 0 0.9833 521.42 957.60)" font-size="26.7" font-style="italic" font-weight="normal" stroke="#000" stroke-width="0.45" stroke-linejoin="round" fill="#000" xml:space="preserve">i</text>
<text transform="matrix(0.8500 0 0 0.9920 560.05 950.00)" font-size="37" font-style="italic" font-weight="normal" stroke="#000" stroke-width="0.45" stroke-linejoin="round" fill="#000" xml:space="preserve">N</text>
<text transform="matrix(1.1438 0 0 0.9407 601.44 950.00)" font-size="37" font-style="italic" font-weight="normal" stroke="#000" stroke-width="0.45" stroke-linejoin="round" fill="#000" xml:space="preserve">λ</text>
<text transform="matrix(1.0987 0 0 0.8789 618.76 957.60)" font-size="26.7" font-style="italic" font-weight="normal" stroke="#000" stroke-width="0.45" stroke-linejoin="round" fill="#000" xml:space="preserve">k</text>
<text transform="matrix(1.0750 0 0 0.9185 635.75 950.00)" font-size="37" font-style="italic" font-weight="normal" stroke="#000" stroke-width="0.45" stroke-linejoin="round" fill="#000" xml:space="preserve">θ</text>
<text transform="matrix(0.8722 0 0 0.9833 656.33 957.60)" font-size="26.7" font-style="italic" font-weight="normal" stroke="#000" stroke-width="0.45" stroke-linejoin="round" fill="#000" xml:space="preserve">G</text>
<text transform="matrix(1.1000 0 0 0.9833 672.30 957.60)" font-size="26.7" font-style="italic" font-weight="normal" stroke="#000" stroke-width="0.45" stroke-linejoin="round" fill="#000" xml:space="preserve">i</text>
<text transform="matrix(1.0357 0 0 1.0200 695.79 950.00)" font-size="37" font-style="normal" font-weight="normal" stroke="#000" stroke-width="0.65" stroke-linejoin="round" fill="#000" xml:space="preserve">1</text>
<text transform="matrix(0.9723 0 0 1.0556 542.00 984.10)" font-size="28" font-style="italic" font-weight="normal" stroke="#44546A" stroke-width="0.35" stroke-linejoin="round" fill="#44546A" xml:space="preserve">Equation 12</text>
<text transform="matrix(1.1437 0 0 0.9407 405.24 1054.00)" font-size="37" font-style="italic" font-weight="normal" stroke="#000" stroke-width="0.45" stroke-linejoin="round" fill="#000" xml:space="preserve">λ</text>
<text transform="matrix(1.1316 0 0 0.9053 422.83 1061.60)" font-size="26.7" font-style="italic" font-weight="normal" stroke="#000" stroke-width="0.45" stroke-linejoin="round" fill="#000" xml:space="preserve">k</text>
<text transform="matrix(0.9565 0 0 0.9760 465.19 1054.00)" font-size="37" letter-spacing="2.934" font-style="italic" font-weight="normal" stroke="#000" stroke-width="0.45" stroke-linejoin="round" fill="#000" xml:space="preserve">TruncN</text>
<text transform="matrix(1.0085 0 0 0.9960 604.69 1054.00)" font-size="37" font-style="normal" font-weight="normal" stroke="#000" stroke-width="0.65" stroke-linejoin="round" fill="#000" xml:space="preserve">0,10,</text>
<text transform="matrix(1.0418 0 0 0.9960 712.07 1054.00)" font-size="37" font-style="normal" font-weight="normal" stroke="#000" stroke-width="0.65" stroke-linejoin="round" fill="#000" xml:space="preserve">10,10</text>
<text transform="matrix(0.9679 0 0 1.0222 542.00 1087.80)" font-size="28" font-style="italic" font-weight="normal" stroke="#44546A" stroke-width="0.35" stroke-linejoin="round" fill="#44546A" xml:space="preserve">Equation 13</text>
<text transform="matrix(1.0750 0 0 0.9296 389.35 1159.90)" font-size="37" font-style="italic" font-weight="normal" stroke="#000" stroke-width="0.45" stroke-linejoin="round" fill="#000" xml:space="preserve">θ</text>
<text transform="matrix(0.8778 0 0 1.0056 410.22 1167.80)" font-size="26.7" font-style="italic" font-weight="normal" stroke="#000" stroke-width="0.45" stroke-linejoin="round" fill="#000" xml:space="preserve">G</text>
<text transform="matrix(1.1667 0 0 1.0056 426.13 1167.80)" font-size="26.7" font-style="italic" font-weight="normal" stroke="#000" stroke-width="0.45" stroke-linejoin="round" fill="#000" xml:space="preserve">i</text>
<text transform="matrix(0.8643 0 0 0.9680 464.96 1159.90)" font-size="37" font-style="italic" font-weight="normal" stroke="#000" stroke-width="0.45" stroke-linejoin="round" fill="#000" xml:space="preserve">N</text>
<text transform="matrix(1.0250 0 0 0.9429 507.42 1159.76)" font-size="37" font-style="italic" font-weight="normal" stroke="#000" stroke-width="0.45" stroke-linejoin="round" fill="#000" xml:space="preserve">β</text>
<text transform="matrix(1.0972 0 0 0.8778 525.22 1167.80)" font-size="26.7" font-style="normal" font-weight="normal" stroke="#000" stroke-width="0.45" stroke-linejoin="round" fill="#000" xml:space="preserve">1</text>
<text transform="matrix(1.0867 0 0 0.9333 542.39 1159.90)" font-size="37" font-style="italic" font-weight="normal" stroke="#000" stroke-width="0.45" stroke-linejoin="round" fill="#000" xml:space="preserve">z</text>
<text transform="matrix(1.1667 0 0 1.0056 558.33 1167.80)" font-size="26.7" font-style="italic" font-weight="normal" stroke="#000" stroke-width="0.45" stroke-linejoin="round" fill="#000" xml:space="preserve">i</text>
<text transform="matrix(1.0800 0 0 0.8778 567.04 1167.80)" font-size="26.7" font-style="normal" font-weight="normal" stroke="#000" stroke-width="0.45" stroke-linejoin="round" fill="#000" xml:space="preserve">1</text>
<text transform="matrix(1.0650 0 0 0.9286 698.16 1159.57)" font-size="37" font-style="italic" font-weight="normal" stroke="#000" stroke-width="0.45" stroke-linejoin="round" fill="#000" xml:space="preserve">β</text>
<text transform="matrix(0.9467 0 0 0.9053 719.69 1165.77)" font-size="26.7" font-style="italic" font-weight="normal" stroke="#000" stroke-width="0.45" stroke-linejoin="round" fill="#000" xml:space="preserve">p</text>
<text transform="matrix(1.1067 0 0 0.9167 736.71 1159.30)" font-size="37" font-style="italic" font-weight="normal" stroke="#000" stroke-width="0.45" stroke-linejoin="round" fill="#000" xml:space="preserve">z</text>
<text transform="matrix(1.0833 0 0 0.9778 752.32 1167.50)" font-size="26.7" font-style="italic" font-weight="normal" stroke="#000" stroke-width="0.45" stroke-linejoin="round" fill="#000" xml:space="preserve">i</text>
<text transform="matrix(1.0667 0 0 0.9053 762.03 1165.77)" font-size="26.7" font-style="italic" font-weight="normal" stroke="#000" stroke-width="0.45" stroke-linejoin="round" fill="#000" xml:space="preserve">p</text>
<text transform="matrix(1.0143 0 0 0.8760 791.16 1159.90)" font-size="37" font-style="normal" font-weight="normal" stroke="#000" stroke-width="0.65" stroke-linejoin="round" fill="#000" xml:space="preserve">1</text>
<text transform="matrix(0.9774 0 0 1.0222 542.00 1197.80)" font-size="28" font-style="italic" font-weight="normal" stroke="#44546A" stroke-width="0.35" stroke-linejoin="round" fill="#44546A" xml:space="preserve">Equation 14</text>
<text transform="matrix(1.0250 0 0 0.9457 516.23 1267.93)" font-size="37" font-style="italic" font-weight="normal" stroke="#000" stroke-width="0.45" stroke-linejoin="round" fill="#000" xml:space="preserve">β</text>
<text transform="matrix(0.9600 0 0 0.9053 537.62 1274.27)" font-size="26.7" font-style="italic" font-weight="normal" stroke="#000" stroke-width="0.45" stroke-linejoin="round" fill="#000" xml:space="preserve">p</text>
<text transform="matrix(0.8643 0 0 0.9840 579.86 1268.00)" font-size="37" font-style="italic" font-weight="normal" stroke="#000" stroke-width="0.45" stroke-linejoin="round" fill="#000" xml:space="preserve">N</text>
<text transform="matrix(1.0159 0 0 0.9960 620.88 1268.00)" font-size="37" font-style="normal" font-weight="normal" stroke="#000" stroke-width="0.65" stroke-linejoin="round" fill="#000" xml:space="preserve">0,10</text>
<text transform="matrix(0.9723 0 0 1.0222 542.00 1305.40)" font-size="28" font-style="italic" font-weight="normal" stroke="#44546A" stroke-width="0.35" stroke-linejoin="round" fill="#44546A" xml:space="preserve">Equation 15</text>
</svg>
</body></html>
